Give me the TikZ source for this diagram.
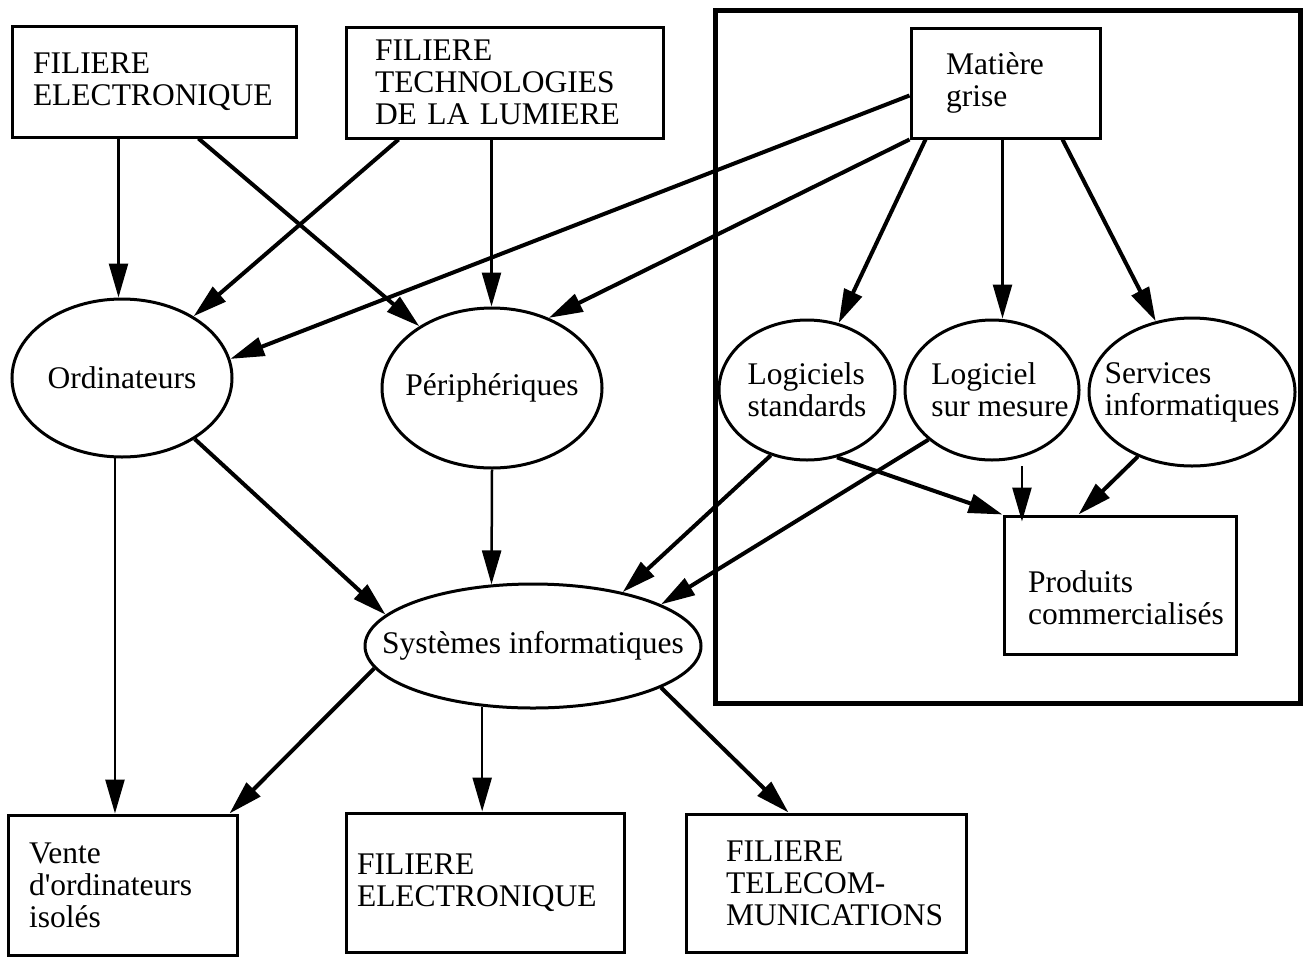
\documentclass[tikz,border=0pt]{standalone}
\usepackage{fontspec}
\setmainfont{Liberation Serif}
\usetikzlibrary{shapes.geometric,arrows.meta}
\begin{document}
\begin{tikzpicture}[x=1pt,y=-1pt,
  every node/.style={font=\fontsize{31.5}{32}\selectfont},
  box/.style={draw, line width=3pt, rectangle, align=left, inner ysep=0pt},
  oval/.style={draw, line width=3pt, ellipse, inner sep=0pt, align=left},
  arr/.style={-{Triangle[length=34pt,width=19pt]}, line width=4pt},
  arrv/.style={arr, line width=2.5pt}]
\useasboundingbox (0,0) rectangle (1308,956);
\fill[white] (0,0) rectangle (1308,956);

% frame
\draw[line width=5pt] (715,10) rectangle (1300,703);

% boxes
\node[box, text width=242pt, inner xsep=21pt, minimum height=111pt] (fetop) at (154,81.5) {FILIERE\\ELECTRONIQUE};
\node[box, text width=259pt, inner xsep=29pt, minimum height=111pt] (ftl) at (504.5,82.5) {FILIERE\\TECHNOLOGIES\\DE LA LUMIERE};
\node[box, text width=119pt, inner xsep=35pt, minimum height=110pt] (mg) at (1005.5,83) {Matière\\grise};
\node[box, text width=184pt, inner xsep=24pt, minimum height=138pt] (prod) at (1120,585) {\rule{0pt}{47pt}Produits\\\mbox{commercialisés}};
\node[box, text width=187pt, inner xsep=21pt, minimum height=140pt] (vente) at (122.5,885) {Vente\\d\textquotesingle ordinateurs\\isolés};
\node[box, text width=256pt, inner xsep=11pt, minimum height=139pt] (febot) at (485,882.5) {FILIERE\\ELECTRONIQUE};
\node[box, text width=200pt, inner xsep=40pt, minimum height=138pt] (tel) at (826,883) {FILIERE\\TELECOM-\\\mbox{MUNICATIONS}};

% ellipses
\node[oval, minimum width=220pt, minimum height=158pt] (ord) at (122,378) {\makebox[0pt]{Ordinateurs}};
\node[oval, minimum width=220pt, minimum height=160pt] (peri) at (492,388) {\makebox[0pt]{Périphériques}};
\node[oval, minimum width=336pt, minimum height=124pt] (sys) at (533,646) {\makebox[0pt]{Systèmes informatiques}};
\node[oval, minimum width=176pt, minimum height=140pt] (ls) at (807,390) {Logiciels\\standards};
\node[oval, minimum width=174pt, minimum height=140pt, inner xsep=-20pt] (lsm) at (992,390) {\hspace*{16pt}Logiciel\\\hspace*{16pt}sur mesure};
\node[oval, minimum width=206pt, minimum height=148pt, inner xsep=-20pt] (serv) at (1192,392) {Services\\informatiques};

% anchor points
\coordinate (fea) at ([xshift=108pt]fetop.south west);
\coordinate (feb) at ([xshift=188pt]fetop.south west);
\coordinate (ftla) at ([xshift=54pt]ftl.south west);
\coordinate (ftlb) at ([xshift=147pt]ftl.south west);
\coordinate (mga) at ([yshift=-69pt]mg.north west);
\coordinate (mgc) at ([xshift=16pt]mg.south west);
\coordinate (mgd) at ([xshift=93pt]mg.south west);
\coordinate (mge) at ([xshift=153pt]mg.south west);
\coordinate (lsmo) at ([yshift=-9pt]lsm.-66);
\coordinate (ordo) at (ord.-95);
\coordinate (syso) at (sys.230);

% connectors
\draw[arrv] (fea) -- (fea |- ord.north);
\draw[arr] (feb) -- (peri);
\draw[arr] (ftla) -- (ord);
\draw[arrv] (ftlb) -- (ftlb |- peri.north);
\draw[arr] (mga) -- (ord.10);
\draw[arr] (mg.south west) -- (peri.51);
\draw[arr] (mgc) -- (ls);
\draw[arrv] (mgd) -- (mgd |- lsm.north);
\draw[arr] (mge) -- (serv);

\draw[arr] (ord.-40) -- (sys.168);
\draw[arrv] (peri.south) -- (sys.124);
\draw[arr] (ls.241) -- (sys.31);
\draw[arr] (lsm.218) -- (sys.18);
\draw[arr] (ls.-66) -- (prod.north west);
\draw[arrv, shorten >=-7pt] (lsmo) -- (lsmo |- prod.north);
\draw[arr] (serv.230) -- ([xshift=76pt]prod.north west);

\draw[arrv] (ordo) -- (ordo |- vente.north);
\draw[arr] (sys.188) -- ([xshift=-9pt]vente.north east);
\draw[arrv] (syso) -- (syso |- febot.north);
\draw[arr] (sys.-18) -- ([xshift=104pt]tel.north west);
\end{tikzpicture}
\end{document}
